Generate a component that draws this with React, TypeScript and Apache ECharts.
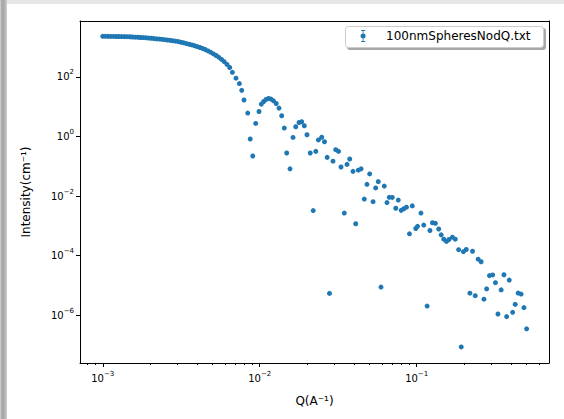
import React, { useEffect, useRef } from "react";
import * as echarts from "echarts";

const seriesName = "100nmSpheresNodQ.txt";
const xTitle = "Q(A\u207B\u00B9)";
const yTitle = "Intensity(cm\u207B\u00B9)";

// Q (1/A)
const qValues = [
  0.001, 0.00104, 0.001082, 0.001126, 0.001172, 0.001219, 0.001268, 0.00132, 0.001373, 0.001428,
  0.001486, 0.001546, 0.001609, 0.001674, 0.001741, 0.001812, 0.001885, 0.001961, 0.00204, 0.002123,
  0.002208, 0.002298, 0.00239, 0.002487, 0.002588, 0.002692, 0.002801, 0.002914, 0.003032, 0.003154,
  0.003282, 0.003414, 0.003552, 0.003696, 0.003845, 0.004001, 0.004162, 0.004331, 0.004505, 0.004687,
  0.004877, 0.005074, 0.005279, 0.005492, 0.005714, 0.005945, 0.006185, 0.006435, 0.006695,
  0.00706, 0.00742, 0.00768, 0.00794, 0.00839, 0.0087, 0.00903, 0.00943, 0.0099, 0.01024,
  0.0106, 0.01097, 0.01138, 0.0118, 0.01224, 0.01274, 0.01327, 0.01381, 0.01435, 0.01486,
  0.0156, 0.0163, 0.01696, 0.0178, 0.01851, 0.01923, 0.02001, 0.02098, 0.02192, 0.02277,
  0.02366, 0.02483, 0.02587, 0.02691, 0.02784, 0.0293, 0.03049, 0.03177, 0.03296, 0.03459,
  0.03599, 0.03744, 0.0393, 0.04089, 0.04246, 0.04425, 0.04637, 0.04825, 0.05019, 0.05276,
  0.05481, 0.05693, 0.05924, 0.06218, 0.0647, 0.06692, 0.06993, 0.07362, 0.07636, 0.07968,
  0.08277, 0.0861, 0.08998, 0.09376, 0.0987, 0.1013, 0.1065, 0.111, 0.1166, 0.1215,
  0.1261, 0.1317, 0.1381, 0.1433, 0.1488, 0.1548, 0.1606, 0.169, 0.1762, 0.1851,
  0.1923, 0.1986, 0.207, 0.2185, 0.227, 0.2362, 0.2465, 0.2575, 0.2683, 0.2792,
  0.2909, 0.3049, 0.3177, 0.3296, 0.3453, 0.3599, 0.3744, 0.389, 0.4089, 0.4246,
  0.4431, 0.463, 0.4825, 0.5019,
];

// Intensity (1/cm)
const intensityValues = [
  2300, 2295, 2290, 2284, 2277, 2270, 2262, 2253, 2244, 2234,
  2222, 2188, 2154, 2138, 2105, 2089, 2057, 2010, 1980, 1934,
  1890, 1861, 1818, 1777, 1723, 1683, 1632, 1582, 1523, 1454,
  1388, 1315, 1246, 1180, 1110, 1035, 966, 894, 821, 743,
  667, 589, 521, 453, 386, 323, 262, 207, 142,
  90.5, 59.6, 35.3, 16.7, 6.08, 0.818, 0.221, 2.73, 6.88, 12.17,
  14.88, 17.36, 18.75, 17.9, 15.7, 12.75, 8.94, 4.94, 1.912, 0.278,
  0.0815, 0.926, 2.113, 2.944, 3.108, 2.283, 1.14, 0.278, 0.003243, 0.3145,
  0.763, 0.94, 0.664, 0.198, 5.375e-6, 0.1476, 0.3584, 0.3145, 0.0944, 2.674e-3,
  0.1153, 0.1749, 0.0672, 1.171e-3, 0.0737, 0.0815, 7.87e-3, 0.02466, 0.055, 6.44e-3,
  0.01868, 0.03038, 8.74e-6, 0.02146, 6.01e-3, 9.05e-3, 8.95e-3, 3.873e-3, 7.29e-3, 3.293e-3,
  3.725e-3, 4.214e-3, 5.375e-4, 4.659e-3, 8.09e-4, 9.58e-4, 2.674e-3, 1.059e-3, 2.018e-6, 6.93e-4,
  1.265e-3, 1.208e-3, 7.78e-4, 4.975e-4, 3.543e-4, 2.989e-4, 3.462e-4, 4.134e-4, 3.55e-4, 1.577e-4,
  8.54e-8, 1.351e-4, 1.601e-4, 5.458e-6, 1.393e-4, 4.499e-6, 7.57e-5, 6.2e-5, 3.436e-6, 7.61e-6,
  2.122e-5, 2.239e-5, 1.227e-5, 1.089e-6, 7.04e-6, 2.274e-5, 8.91e-7, 1.499e-5, 1.241e-6, 2.3e-6,
  5.5e-6, 5.09e-6, 1.784e-6, 3.475e-7,
];

const xMajorTicks = [1e-3, 1e-2, 1e-1];
const xMinorTicks = [
  8e-4, 9e-4,
  2e-3, 3e-3, 4e-3, 5e-3, 6e-3, 7e-3, 8e-3, 9e-3,
  2e-2, 3e-2, 4e-2, 5e-2, 6e-2, 7e-2, 8e-2, 9e-2,
  2e-1, 3e-1, 4e-1, 5e-1, 6e-1,
];
const yMajorTicks = [1e-6, 1e-4, 1e-2, 1, 1e2];
const xRange = [7.16e-4, 0.697];
const yRange = [2.47e-8, 7516];

const FONT = "DejaVu Sans";
const lg = (v: number) => Math.log10(v);

const powLabel = (v: number) => {
  const n = Math.round(v);
  const e = n < 0 ? "\u2212" + String(-n) : String(n);
  return "{b|10}{e|" + e + "}";
};

const richStyle = {
  b: { fontSize: 10, fontFamily: FONT, color: "#000" },
  e: { fontSize: 7, fontFamily: FONT, color: "#000", padding: [0, 0, 9, 0] },
};

export default function App() {
  const ref = useRef<HTMLDivElement>(null);
  useEffect(() => {
    if (!ref.current) return;
    const chart = echarts.init(ref.current, null, { renderer: "svg" });
    const data = qValues.map((q, i) => [lg(q), lg(intensityValues[i])]);
    const xMin = lg(xRange[0]);
    const xMax = lg(xRange[1]);
    const yMin = lg(yRange[0]);
    const yMax = lg(yRange[1]);
    const line = { show: true, onZero: false, lineStyle: { color: "#000", width: 1 } };
    chart.setOption({
      animation: false,
      grid: { left: 80, top: 21, width: 469, height: 342, containLabel: false },
      xAxis: [
        {
          type: "value",
          min: xMin,
          max: xMax,
          position: "bottom",
          name: xTitle,
          nameLocation: "middle",
          nameGap: 32,
          nameTextStyle: { fontSize: 12, fontFamily: FONT, color: "#000" },
          axisLine: line,
          axisTick: { show: true, length: 4, lineStyle: { color: "#000", width: 1 }, customValues: xMajorTicks.map(lg) },
          axisLabel: { show: true, margin: 7, customValues: xMajorTicks.map(lg), formatter: powLabel, rich: richStyle },
          splitLine: { show: false },
        },
        {
          type: "value",
          min: xMin,
          max: xMax,
          position: "bottom",
          axisLine: { show: false, onZero: false },
          axisTick: { show: true, length: 2, lineStyle: { color: "#000", width: 1 }, customValues: xMinorTicks.map(lg) },
          axisLabel: { show: false },
          splitLine: { show: false },
        },
        {
          type: "value",
          min: xMin,
          max: xMax,
          position: "top",
          axisLine: line,
          axisTick: { show: false },
          axisLabel: { show: false },
          splitLine: { show: false },
        },
      ],
      yAxis: [
        {
          type: "value",
          min: yMin,
          max: yMax,
          position: "left",
          name: yTitle,
          nameLocation: "middle",
          nameRotate: 90,
          nameGap: 48,
          nameTextStyle: { fontSize: 12, fontFamily: FONT, color: "#000" },
          axisLine: line,
          axisTick: { show: true, length: 4, lineStyle: { color: "#000", width: 1 }, customValues: yMajorTicks.map(lg) },
          axisLabel: { show: true, margin: 6, customValues: yMajorTicks.map(lg), formatter: powLabel, rich: richStyle },
          splitLine: { show: false },
        },
        {
          type: "value",
          min: yMin,
          max: yMax,
          position: "right",
          axisLine: line,
          axisTick: { show: false },
          axisLabel: { show: false },
          splitLine: { show: false },
        },
      ],
      legend: {
        left: 360.5,
        top: 30,
        padding: 0,
        z: 20,
        itemWidth: 36,
        itemHeight: 12,
        selectedMode: false,
        textStyle: { fontSize: 12, fontFamily: FONT, color: "#000" },
        data: [
          {
            name: seriesName,
            icon:
              "path://M4.6 0h0.8v12h-0.8z M3 0h4v0.9h-4z M3 11.1h4v0.9h-4z M5 3.4a2.6 2.6 0 1 1 -0.01 0z",
          },
        ],
      },
      graphic: [
        {
          type: "rect",
          z: 10,
          shape: { x: 347, y: 28, width: 199, height: 22, r: 3 },
          style: { fill: "#a8a8a8" },
        },
        {
          type: "rect",
          z: 11,
          shape: { x: 345.5, y: 26.5, width: 198, height: 21, r: 3 },
          style: { fill: "#ffffff", stroke: "#cccccc", lineWidth: 1 },
        },
      ],
      series: [
        {
          name: seriesName,
          type: "scatter",
          xAxisIndex: 0,
          yAxisIndex: 0,
          symbol: "circle",
          symbolSize: 5,
          itemStyle: { color: "#1f77b4", opacity: 1 },
          data,
        },
      ],
    });
    return () => chart.dispose();
  }, []);

  return (
    <div style={{ position: "fixed", left: 0, top: 0, width: 564, height: 419, background: "#ffffff", overflow: "hidden" }}>
      <div style={{ position: "absolute", left: 0, top: 0, width: 564, height: 4, background: "#e6e6e6" }} />
      <div
        style={{
          position: "absolute",
          left: 0,
          top: 0,
          width: 7,
          height: 419,
          background: "linear-gradient(to right, #d6d6d6 0px, #a4a4a4 2px, #b4b4b4 5px, #d0d0d0 7px)",
        }}
      />
      <div ref={ref} style={{ position: "absolute", left: 0, top: 0, width: 564, height: 419 }} />
    </div>
  );
}
